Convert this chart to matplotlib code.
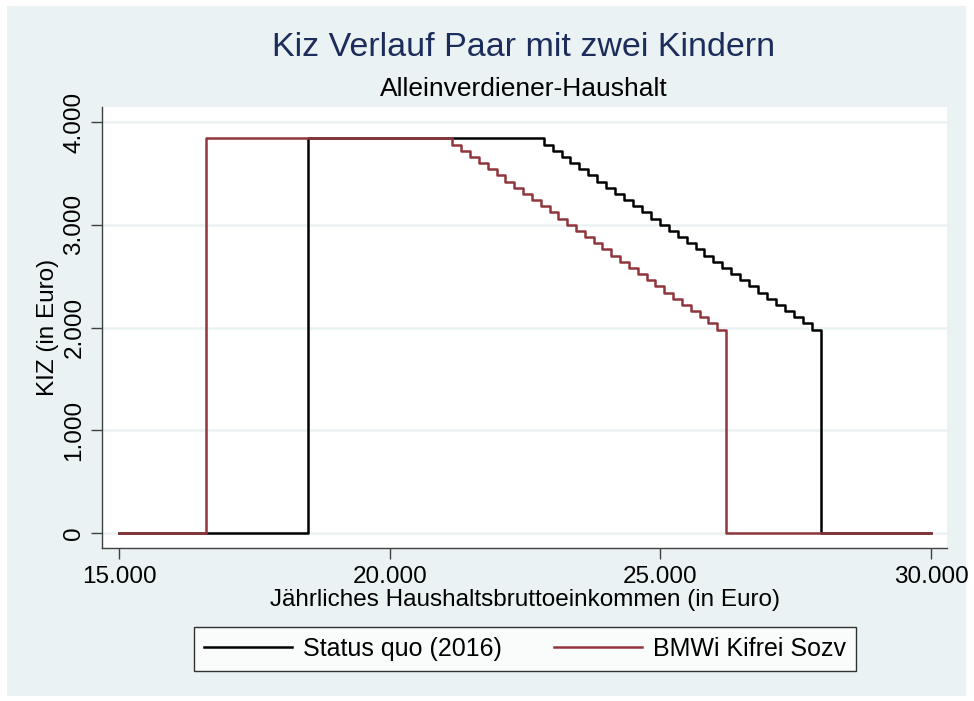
import matplotlib.pyplot as plt
from matplotlib.patches import Rectangle
from matplotlib.ticker import FuncFormatter

plt.rcParams['font.family'] = ['Liberation Sans', 'DejaVu Sans']

# KIZ levels per step (Euro/Jahr), shared by both series
kiz_levels = [3840, 3780, 3720, 3660, 3600, 3540, 3480, 3420, 3360, 3300, 3240,
              3180, 3120, 3060, 3000, 2940, 2880, 2820, 2760, 2700, 2640, 2580,
              2520, 2460, 2400, 2340, 2280, 2220, 2160, 2100, 2040, 1980]

# Status quo (2016): income where each level starts
sq_start = 15000
sq_entry = 18500
sq_steps = [22845, 23010, 23175, 23340, 23505, 23670, 23835, 24000, 24165, 24330,
            24495, 24660, 24825, 24990, 25155, 25320, 25485, 25650, 25815, 25980,
            26145, 26310, 26475, 26640, 26805, 26970, 27135, 27300, 27465, 27630, 27795]
sq_exit = 27960

# BMWi Kifrei Sozv
bm_start = 15000
bm_entry = 16600
bm_steps = [21160, 21323, 21486, 21649, 21812, 21975, 22138, 22301, 22464, 22627,
            22790, 22953, 23116, 23279, 23442, 23605, 23768, 23931, 24094, 24257,
            24420, 24583, 24746, 24909, 25072, 25235, 25398, 25561, 25724, 25887, 26050]
bm_exit = 26210
x_end = 30000

sq_x = [sq_start, sq_entry] + sq_steps + [sq_exit, x_end]
sq_y = [0] + kiz_levels + [0, 0]
bm_x = [bm_start, bm_entry] + bm_steps + [bm_exit, x_end]
bm_y = [0] + kiz_levels + [0, 0]

xticks = [15000, 20000, 25000, 30000]
yticks = [0, 1000, 2000, 3000, 4000]

bg = '#EAF2F3'
navy = '#1C2D5B'
maroon = '#90353B'
axcol = '#404040'

fig = plt.figure(figsize=(9.74, 7.01), dpi=100, facecolor='white')
fig.patches.append(Rectangle((7/974, 5/701), 959/974, 690/701, transform=fig.transFigure,
                             facecolor=bg, edgecolor='none', zorder=-10))

ax = fig.add_axes([102/974, 153/701, 845/974, 441/701])
ax.set_facecolor('white')

ax.step(sq_x, sq_y, where='post', color='black', lw=1.8, label='Status quo (2016)', zorder=3)
ax.step(bm_x, bm_y, where='post', color=maroon, lw=1.8, label='BMWi Kifrei Sozv', zorder=4)

ax.set_xlim(14686, 30296)
ax.set_ylim(-146, 4146)
ax.set_xticks(xticks)
ax.set_yticks(yticks)

fmt = FuncFormatter(lambda v, p: f'{int(v):,}'.replace(',', '.'))
ax.xaxis.set_major_formatter(fmt)
ax.yaxis.set_major_formatter(fmt)

for lab in ax.get_yticklabels():
    lab.set_rotation(90)
    lab.set_va('center')
ax.tick_params(axis='both', labelsize=17.5, length=8, width=1, color=axcol, labelcolor='black')
ax.tick_params(axis='y', pad=4)
ax.tick_params(axis='x', pad=5)

ax.grid(axis='y', color=bg, lw=1.8, zorder=0)
ax.set_axisbelow(True)
for s in ['top', 'right']:
    ax.spines[s].set_visible(False)
for s in ['left', 'bottom']:
    ax.spines[s].set_color(axcol)
    ax.spines[s].set_linewidth(1)

ax.set_xlabel('Jährliches Haushaltsbruttoeinkommen (in Euro)', fontsize=17.5, labelpad=1)
ax.set_ylabel('KIZ (in Euro)', fontsize=17.5, labelpad=3)

fig.text(524/974, 1 - 48/701, 'Kiz Verlauf Paar mit zwei Kindern', ha='center', va='center',
         fontsize=24.5, color=navy)
fig.text(524/974, 1 - 89/701, 'Alleinverdiener-Haushalt', ha='center', va='center',
         fontsize=19, color='black')

leg = fig.legend(loc='center', bbox_to_anchor=(525/974, 1 - 649/701), ncol=2, fontsize=18,
                 frameon=True, fancybox=False, edgecolor='black', handlelength=3.5,
                 handletextpad=0.45, columnspacing=2.1, borderpad=0.4)
leg.get_frame().set_linewidth(1)

fig.savefig('out.png', dpi=100, facecolor='white')
